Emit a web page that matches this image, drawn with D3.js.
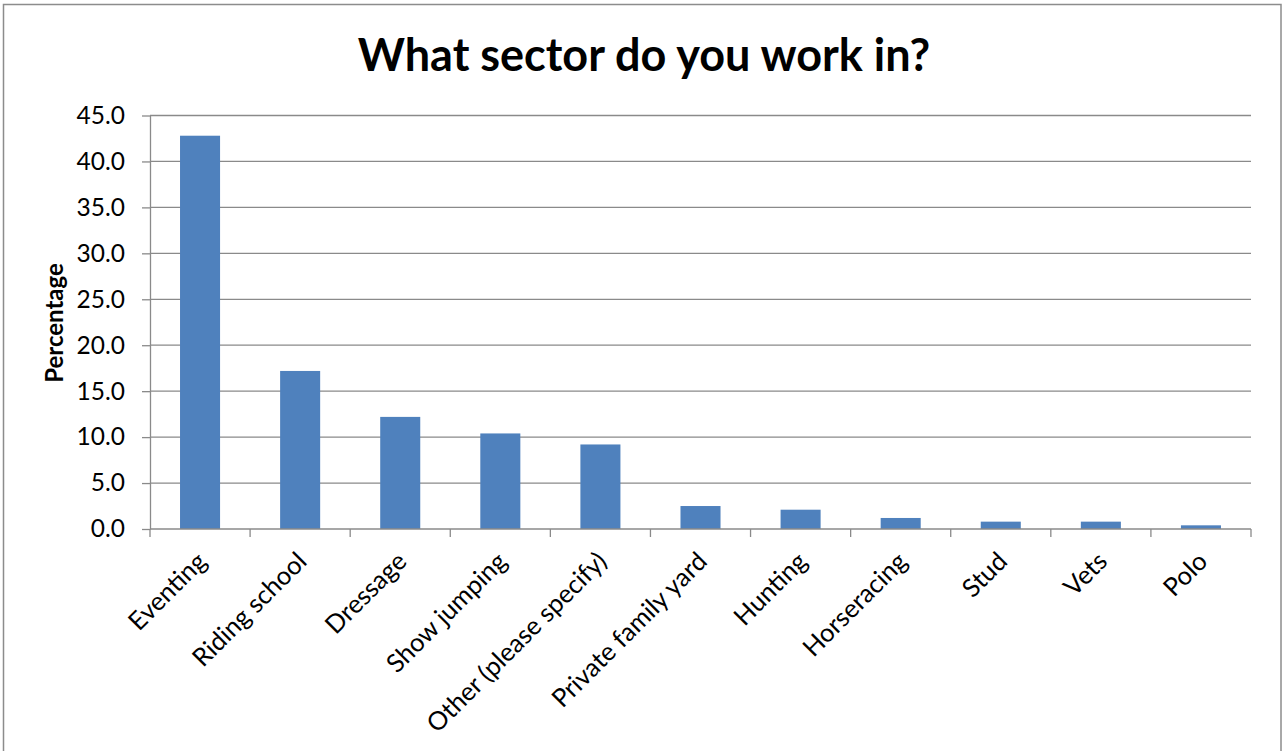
<!DOCTYPE html>
<html>
<head>
<meta charset="utf-8">
<script src="https://cdn.jsdelivr.net/npm/d3@7"></script>
<style>
  html, body { margin: 0; padding: 0; background: #fff; }
  svg { display: block; }
  text { font-family: Lato, "Open Sans", sans-serif; fill: #000; }
</style>
</head>
<body>
<svg id="chart" width="1283" height="751"></svg>
<script>
// Survey answers: share of respondents per sector (percent)
const categories = ["Eventing", "Riding school", "Dressage", "Show jumping",
  "Other (please specify)", "Private family yard", "Hunting", "Horseracing",
  "Stud", "Vets", "Polo"];
const percentages = [42.8, 17.2, 12.2, 10.4, 9.2, 2.5, 2.1, 1.2, 0.8, 0.8, 0.4];
const yTicks = [0, 5, 10, 15, 20, 25, 30, 35, 40, 45];
const titleText = "What sector do you work in?";
const yLabelText = "Percentage";

const svg = d3.select("#chart");
const W = 1283, H = 751;
const plot = { left: 150, right: 1251, top: 115.5, bottom: 529 };

// outer frame
svg.append("rect")
  .attr("x", 3.5).attr("y", 4.5)
  .attr("width", 1277.5).attr("height", H + 10)
  .attr("fill", "#fff").attr("stroke", "#8c8c8c").attr("stroke-width", 1.5);

const x = d3.scaleBand().domain(categories)
  .range([plot.left, plot.right]).paddingInner(0.6).paddingOuter(0.3);
const y = d3.scaleLinear().domain([0, 45]).range([plot.bottom, plot.top]);

// horizontal gridlines
svg.append("g").selectAll("line").data(yTicks.filter(d => d > 0)).join("line")
  .attr("x1", plot.left).attr("x2", plot.right)
  .attr("y1", d => y(d)).attr("y2", d => y(d))
  .attr("stroke", "#8a8a8a").attr("stroke-width", 1.3);

// bars
svg.append("g").selectAll("rect").data(percentages).join("rect")
  .attr("x", (d, i) => x(categories[i]))
  .attr("width", x.bandwidth())
  .attr("y", d => y(d))
  .attr("height", d => y(0) - y(d))
  .attr("fill", "#4f81bd");

// y axis
const yAxis = d3.axisLeft(y).tickValues(yTicks).tickFormat(d3.format(".1f"))
  .tickSizeInner(8).tickSizeOuter(0).tickPadding(17);
const gy = svg.append("g").attr("transform", `translate(${plot.left},0)`).call(yAxis);
gy.select(".domain").attr("stroke", "#8a8a8a").attr("stroke-width", 1.3);
gy.selectAll(".tick line").attr("stroke", "#8a8a8a").attr("stroke-width", 1.3);
gy.selectAll(".tick text").attr("font-size", 24.5).attr("font-family", "Lato, sans-serif").attr("fill", "#000");

// x axis: ticks sit on category boundaries
const boundaries = d3.range(categories.length + 1).map(i => plot.left + i * (plot.right - plot.left) / categories.length);
const gx = svg.append("g");
gx.append("line")
  .attr("x1", plot.left).attr("x2", plot.right)
  .attr("y1", plot.bottom).attr("y2", plot.bottom)
  .attr("stroke", "#8a8a8a").attr("stroke-width", 1.3);
gx.selectAll("line.tk").data(boundaries).join("line").attr("class", "tk")
  .attr("x1", d => d).attr("x2", d => d)
  .attr("y1", plot.bottom).attr("y2", plot.bottom + 8)
  .attr("stroke", "#8a8a8a").attr("stroke-width", 1.3);
gx.selectAll("text").data(categories).join("text")
  .attr("text-anchor", "end")
  .attr("font-size", 25.5)
  .attr("transform", d => `translate(${x(d) + x.bandwidth() / 2 + 8},${plot.bottom + 34}) rotate(-45)`)
  .text(d => d);

// title
svg.append("text")
  .attr("x", 644).attr("y", 71)
  .attr("text-anchor", "middle")
  .attr("font-size", 45).attr("font-weight", "bold")
  .text(titleText);

// y axis title
svg.append("text")
  .attr("transform", `translate(63,323) rotate(-90)`)
  .attr("text-anchor", "middle")
  .attr("font-size", 24).attr("font-weight", "bold")
  .text(yLabelText);
</script>
</body>
</html>
